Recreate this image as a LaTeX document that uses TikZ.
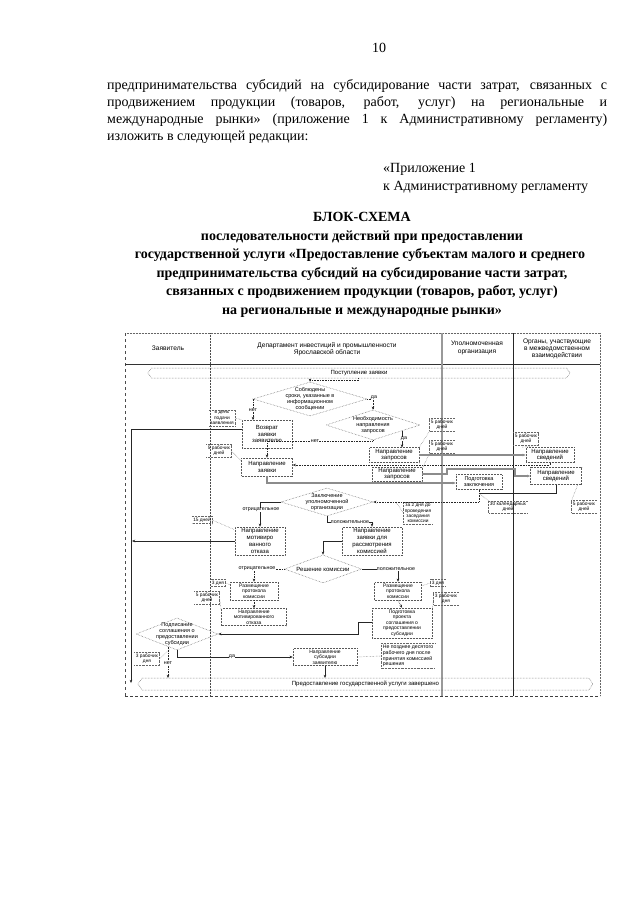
\documentclass[tikz,border=0pt]{standalone}
\usepackage{fontspec}
\setmainfont{Liberation Serif}
\newfontfamily\sansdg{Liberation Sans}
\usetikzlibrary{arrows.meta,shapes.geometric,shapes.symbols,calc}
\newcommand\fdg{\sansdg\fontsize{6}{6.8}\selectfont}
\newcommand\fdm{\sansdg\fontsize{5.5}{6.2}\selectfont}
\newcommand\fsm{\sansdg\fontsize{5}{5.4}\selectfont}
\newcommand\fnt{\sansdg\fontsize{4.8}{5.3}\selectfont}
\newcommand\flb{\sansdg\fontsize{5.3}{6}\selectfont}
\newcommand\fhd{\sansdg\fontsize{6.6}{7.2}\selectfont}
\newcommand\fbody{\fontsize{14}{17}\selectfont}
\tikzset{
  bx/.style={draw=black!65, densely dotted, line width=0.5pt, align=center, font=\fdg, inner sep=0.5pt},
  dm/.style={diamond, draw=black!65, densely dotted, line width=0.5pt, inner sep=0},
  tx/.style={align=center, font=\fdm, inner sep=0},
  ar/.style={-{Stealth[length=3.2pt,width=2.6pt]}, line width=0.6pt, black!85},
  ard/.style={ar, densely dotted},
  arg/.style={ar, black!45, line width=1.1pt},
  ln/.style={line width=0.6pt, black!85},
  lbl/.style={font=\flb, fill=white, inner sep=0.4pt},
  nt/.style={font=\fnt, align=center, inner sep=1.2pt},
  br/.style={draw=black!60, densely dotted, line width=0.45pt},
  bn/.style={signal, signal to=west and east, signal pointer angle=110, draw=black!65, densely dotted, line width=0.5pt, inner sep=0, font=\fdg},
  body/.style={anchor=base west, inner sep=0, font=\fbody},
  ttl/.style={anchor=base, inner sep=0, font=\fbody\bfseries},
}
\newcommand\brL[1]{\draw[br] (#1.north east) -- (#1.north west) -- (#1.south west) -- (#1.south east);}
\newcommand\brR[1]{\draw[br] (#1.north west) -- (#1.north east) -- (#1.south east) -- (#1.south west);}
\begin{document}
\begin{tikzpicture}[x=1pt,y=-1pt]
\useasboundingbox[fill=white] (0,0) rectangle (640,905);

% ---------- page text ----------
\node[anchor=base, inner sep=0, font=\fbody] (pg) at (379,52) {10};
\node[body] (p1) at (107,89) {\makebox[500pt][s]{предпринимательства субсидий на субсидирование части затрат, связанных с}};
\node[body] (p2) at (107,106) {\makebox[500pt][s]{продвижением продукции (товаров, работ, услуг) на региональные и}};
\node[body] (p3) at (107,123) {\makebox[500pt][s]{международные рынки» (приложение 1 к Административному регламенту)}};
\node[body] (p4) at (107,140) {изложить в следующей редакции:};
\node[body] (a1) at (383,172) {«Приложение 1};
\node[body] (a2) at (383,190) {к Административному регламенту};

\node[ttl] (t1) at (362,221) {БЛОК-СХЕМА};
\node[ttl] (t2) at (362,240) {последовательности действий при предоставлении};
\node[ttl] (t3) at (360,258.5) {государственной услуги «Предоставление субъектам малого и среднего};
\node[ttl] (t4) at (362,277) {предпринимательства субсидий на субсидирование части затрат,};
\node[ttl] (t5) at (362,295.5) {связанных с продвижением продукции (товаров, работ, услуг)};
\node[ttl] (t6) at (362,314) {на региональные и международные рынки»};

% ---------- frame ----------
\draw[black!60, densely dotted, line width=0.5pt] (125,333) -- (600,333);
\draw[black!70, dashed, line width=0.5pt] (125,333) -- (125,696);
\draw[black!60, densely dotted, line width=0.5pt] (600,333) -- (600,696);
\draw[black!80, line width=0.7pt] (125,364) -- (600,364);
\draw[black!75, densely dashed, line width=0.7pt] (125,696) -- (600,696);
\draw[black!70, densely dotted, line width=0.5pt] (210,333) -- (210,696);
\draw[black!40, line width=1.6pt] (442,333) -- (442,696);
\draw[black!85, line width=0.6pt] (513,333) -- (513,696);

\node[font=\fhd, align=center] (h1) at (168,348) {Заявитель};
\node[font=\fhd, align=center] (h2) at (327,349) {Департамент инвестиций и промышленности\\Ярославской области};
\node[font=\fhd, align=center] (h3) at (477,348) {Уполномоченная\\организация};
\node[font=\fhd, align=center] (h4) at (557,349) {Органы, участвующие\\в межведомственном\\взаимодействии};

% ---------- banners ----------
\node[bn, minimum width=422pt, minimum height=10pt] (bn1) at (359,373) {Поступление заявки};
\node[bn, minimum width=455pt, minimum height=12pt] (bn2) at (365.5,684) {Предоставление государственной услуги завершено};

% ---------- decisions ----------
\node[dm, minimum width=114pt, minimum height=34pt] (d1) at (310,399) {};
\node[tx] (d1t) at (d1) {Соблюдены\\сроки, указанные в\\информационном\\сообщении};
\node[dm, minimum width=94pt, minimum height=30pt] (d2) at (373,425) {};
\node[tx] (d2t) at (d2) {Необходимость\\направления\\запросов};
\node[dm, minimum width=92pt, minimum height=28pt] (d3) at (327,502) {};
\node[tx] (d3t) at (d3) {Заключение\\уполномоченной\\организации};
\node[dm, minimum width=77pt, minimum height=28pt] (d4) at (323,569) {};
\node[tx, font=\fdg] (d4t) at (d4) {Решение комиссии};
\node[dm, minimum width=82pt, minimum height=32pt] (d5) at (177,634) {};
\node[tx] (d5t) at (d5) {Подписание\\соглашения о\\предоставлении\\субсидии};

% ---------- boxes ----------
\node[bx, minimum width=50pt, minimum height=28pt] (vozv) at (267,434) {Возврат\\заявки\\заявителю};
\node[bx, minimum width=50pt, minimum height=15pt] (zap1) at (394,455) {Направление\\запросов};
\node[bx, minimum width=50pt, minimum height=14pt] (zap2) at (397,474) {Направление\\запросов};
\node[bx, minimum width=51pt, minimum height=18pt] (zayav) at (267,467) {Направление\\заявки};
\node[bx, minimum width=48pt, minimum height=15pt] (sv1) at (550,455) {Направление\\сведений};
\node[bx, minimum width=51pt, minimum height=17pt] (sv2) at (556,476) {Направление\\сведений};
\node[bx, minimum width=46pt, minimum height=15pt, font=\fdm] (pzak) at (479,482) {Подготовка\\заключения};
\node[bx, minimum width=50pt, minimum height=28pt] (otk1) at (260,541) {Направление\\мотивиро\\ванного\\отказа};
\node[bx, minimum width=60pt, minimum height=28pt] (kom) at (372,541) {Направление\\заявки для\\рассмотрения\\комиссией};
\node[bx, minimum width=48pt, minimum height=18pt, font=\fsm] (prot1) at (254,591) {Размещение\\протокола\\комиссии};
\node[bx, minimum width=65pt, minimum height=17pt, font=\fsm] (otk2) at (254,617) {Направление\\мотивированного\\отказа};
\node[bx, minimum width=47pt, minimum height=18pt, font=\fsm] (prot2) at (398,591) {Размещение\\протокола\\комиссии};
\node[bx, minimum width=60pt, minimum height=30pt, font=\fsm] (proekt) at (402,623) {Подготовка\\проекта\\соглашения о\\предоставлении\\субсидии};
\node[bx, minimum width=64pt, minimum height=17pt, font=\fsm] (subs) at (325,657) {Направление\\субсидии\\заявителю};

% ---------- notes ----------
\node[nt] (n1) at (222,418) {в день\\подачи\\заявления}; \brR{n1}
\node[nt] (n2) at (219,451) {5 рабочих\\дней}; \brR{n2}
\node[nt] (n3) at (442,425) {5 рабочих\\дней}; \brL{n3}
\node[nt] (n4) at (442,447) {5 рабочих\\дней}; \brL{n4}
\node[nt] (n5) at (526,439) {5 рабочих\\дней}; \brR{n5}
\node[nt] (n6) at (584,507) {5 рабочих\\дней}; \brL{n6}
\node[nt] (n7) at (418,513) {за 2 дня до\\проведения\\заседания\\комиссии}; \brL{n7}
\node[nt] (n8) at (508,507) {30 календарных\\дней}; \brL{n8}
\node[nt] (n9) at (202,520) {15 дней}; \brR{n9}
\node[nt] (n10) at (218,583) {3 дня}; \brR{n10}
\node[nt] (n11) at (207,598) {5 рабочих\\дней}; \brR{n11}
\node[nt] (n12) at (438,583) {3 дня}; \brL{n12}
\node[nt] (n13) at (446,599) {3 рабочих\\дня}; \brL{n13}
\node[nt] (n14) at (147,659) {3 рабочих\\дня}; \brR{n14}
\node[nt, align=left, inner sep=1.6pt, font=\sansdg\fontsize{5.2}{5.6}\selectfont] (n15) at (408,656) {Не позднее десятого\\рабочего дня после\\принятия комиссией\\решения}; \brL{n15}

% callouts
\draw[br] (n1.east) -- (vozv.north west);
\draw[br] (n2.east) -- ([yshift=-3pt]zayav.north west);
\draw[br] (n3.south west) -- (zap1.north east);
\draw[br] (n4.south west) -- ([yshift=-2pt]zap2.north east);
\draw[br] (n5.south east) -- ([xshift=-4pt]sv1.north west);
\draw[br] (n6.north west) -- ([xshift=-4pt]sv2.south east);
\draw[br] (n7.west) -- (396,502);
\draw[br] (n8.north west) -- (480,494);
\draw[br] (n9.east) -- ([yshift=-3pt]otk1.north west);
\draw[br] (n10.east) -- ([yshift=-3pt]prot1.north west);
\draw[br] (n11.east) -- ([yshift=-2pt]otk2.north west);
\draw[br] (n12.west) -- ([yshift=-4pt]prot2.north east);
\draw[br] (n13.west) -- ([yshift=-3pt]proekt.north east);
\draw[br] (n14.east) -- (170,649);
\draw[br] (n15.west) -- (subs.east);

% ---------- connectors ----------
\draw[ard] (358,378) -- (358,380.5) -| (d1.north);
\draw[ard] (d1.west) -| (253,420);
\node[lbl] at (253,410) {нет};
\draw[ard] (d1.east) -| (d2.north);
\node[lbl] at (374,398) {да};
\draw[ard] (d2.south) -- (373,441) -| (zayav.north);
\node[lbl] at (315,441) {нет};
\draw[ar] (402,430.7) -- (402,447.5);
\node[lbl] at (404,439) {да};
\draw[arg] (zap1.east) -- (sv1.west);
\draw[arg] (zap2.east) -- (447,474) -- (447,469) -- (515,469) -- (515,476) -- (sv2.west);
\draw[ard] (sv1.south) -- (550,465) -- (zayav.east |- 0,465);
\draw[arg] (zayav.south) -- (267,483) -- (pzak.west |- 0,483);
\draw[ard] (pzak.south) -- (479,502) -- (d3.east);
\draw[ln] (sv2.south) -- (556,493) -- (479,493);
\draw[ar] (d3.west) -| (otk1.north);
\node[lbl] at (261,510) {отрицательное};
\draw[ar] (d3.south) -- (327,522) -| (kom.north);
\node[lbl] at (350,522) {положительное};
\draw[ar] (vozv.west |- 0,429) -- (131,429) -- (131,683);
\draw[ar] (otk1.west) -- (132,541);
\draw[ar] (kom.west) -- (323,541) -- (d4.north);
\draw[ard] (d4.west) -| (prot1.north);
\node[lbl] at (257,569) {отрицательное};
\draw[ard] (prot1.south) -- (otk2.north);
\draw[ar] (d4.east) -| (prot2.north);
\node[lbl] at (396,569) {положительное};
\draw[ard] (prot2.south) -- (proekt.north);
\draw[ar] (proekt.west |- 0,622) -- (358,622) |- (d5.east);
\draw[ar] (d5.south) -- (177,657) -- (subs.west);
\node[lbl] at (232,657) {да};
\draw[ard] (168,646.5) -- (168,678);
\node[lbl] at (168,663) {нет};
\draw[ar] (subs.south) -- (325,678);
\end{tikzpicture}
\end{document}
